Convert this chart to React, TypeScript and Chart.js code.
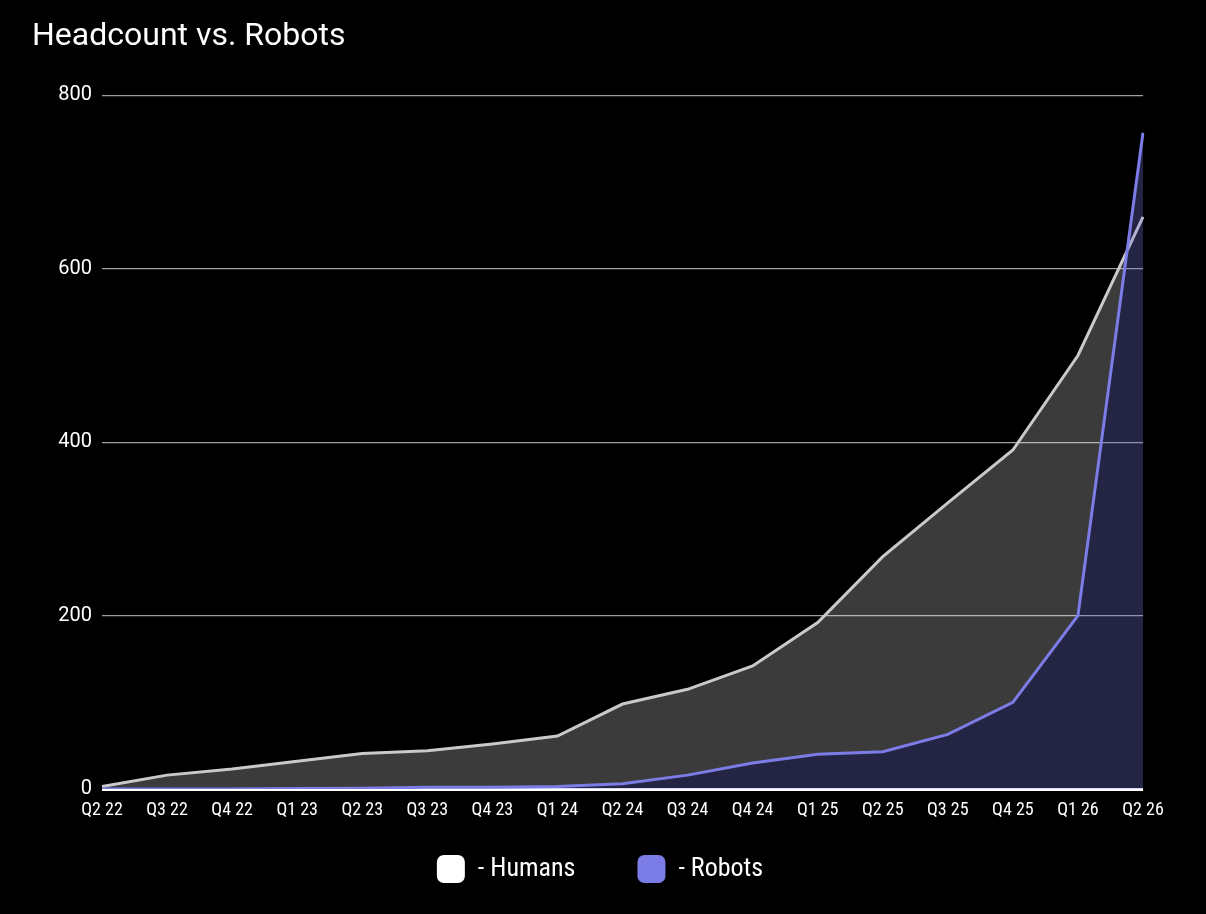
import React, { useEffect, useRef } from "react";
import { Chart, registerables } from "chart.js";

Chart.register(...registerables);

const quarters = ["Q2 22", "Q3 22", "Q4 22", "Q1 23", "Q2 23", "Q3 23", "Q4 23", "Q1 24", "Q2 24", "Q3 24", "Q4 24", "Q1 25", "Q2 25", "Q3 25", "Q4 25", "Q1 26", "Q2 26"];
const humans = [3, 16, 23, 32, 41, 44, 52, 61, 98, 115, 142, 192, 268, 330, 391, 500, 660];
const robots = [0, 0, 0, 0.5, 1, 2, 2, 3, 6, 16, 30, 40, 43, 63, 100, 200, 757];
const yTicks = [0, 200, 400, 600, 800];

const FONT = "Roboto, 'Noto Sans', sans-serif";
const NARROW = "'Liberation Sans Narrow', 'Roboto Condensed', Roboto, sans-serif";

export default function App() {
  const ref = useRef<HTMLCanvasElement | null>(null);
  useEffect(() => {
    document.body.style.margin = "0";
    document.body.style.background = "#000";
    const ctx = ref.current!.getContext("2d")!;
    const chart = new Chart(ctx, {
      type: "line",
      data: {
        labels: quarters,
        datasets: [
          {
            label: "Humans",
            data: humans,
            borderColor: "#c9c9c9",
            borderWidth: 3,
            pointRadius: 0,
            tension: 0,
            order: 1,
            fill: { target: 1, above: "rgba(255,255,255,0.23)", below: "rgba(0,0,0,0)" },
            backgroundColor: "#ffffff",
          },
          {
            label: "Robots",
            data: robots,
            borderColor: "#7c7ce6",
            borderWidth: 3,
            pointRadius: 0,
            tension: 0,
            order: 0,
            fill: "origin",
            backgroundColor: "rgba(120,120,230,0.3)",
          },
        ],
      },
      options: {
        responsive: false,
        animation: false,
        layout: { padding: { left: 32, right: 38, top: 0, bottom: 21 } },
        plugins: {
          title: {
            display: true,
            text: "Headcount vs. Robots",
            align: "start",
            color: "#ffffff",
            font: { family: FONT, size: 32, weight: "normal" },
            padding: { top: 18, bottom: 39 },
          },
          legend: {
            position: "bottom",
            sort: (a: any, b: any) => a.datasetIndex - b.datasetIndex,
            labels: {
              color: "#ffffff",
              font: { family: NARROW, size: 26 },
              boxWidth: 28,
              boxHeight: 28,
              useBorderRadius: true,
              borderRadius: 7,
              padding: 62,
              generateLabels: (c: any) =>
                c.data.datasets.map((d: any, i: number) => ({
                  text: "- " + d.label,
                  fillStyle: i === 0 ? "#ffffff" : "#7c7ce6",
                  strokeStyle: i === 0 ? "#ffffff" : "#7c7ce6",
                  lineWidth: 0,
                  borderRadius: 7,
                  fontColor: "#ffffff",
                  datasetIndex: i,
                  hidden: false,
                })),
            },
          },
          tooltip: { enabled: false },
        },
        scales: {
          x: {
            offset: false,
            grid: { display: false, drawTicks: false },
            border: { display: false },
            afterFit: (axis: any) => {
              axis.height = 4;
            },
            ticks: {
              color: "#ffffff",
              font: { family: NARROW, size: 18 },
              maxRotation: 0,
              autoSkip: false,
              mirror: true,
              padding: -32.5,
            },
          },
          y: {
            min: 0,
            max: 800,
            afterBuildTicks: (axis: any) => {
              axis.ticks = yTicks.map((v) => ({ value: v }));
            },
            afterFit: (axis: any) => {
              axis.width = 70;
            },
            border: { display: false },
            grid: {
              drawTicks: false,
              color: (c: any) => (c.tick && c.tick.value === 0 ? "#ffffff" : "#a0a0a0"),
              lineWidth: (c: any) => (c.tick && c.tick.value === 0 ? 3 : 1.3),
            },
            ticks: {
              color: "#ffffff",
              font: { family: FONT, size: 20 },
              padding: 10,
            },
          },
          y2: {
            position: "right",
            display: true,
            grid: { display: false, drawTicks: false },
            border: { display: false },
            ticks: { display: false },
            afterFit: (axis: any) => {
              axis.width = 25;
            },
          },
        },
      },
    });
    return () => chart.destroy();
  }, []);
  return (
    <div style={{ width: 1206, height: 914, background: "#000" }}>
      <canvas ref={ref} width={1206} height={914} style={{ display: "block" }} />
    </div>
  );
}
